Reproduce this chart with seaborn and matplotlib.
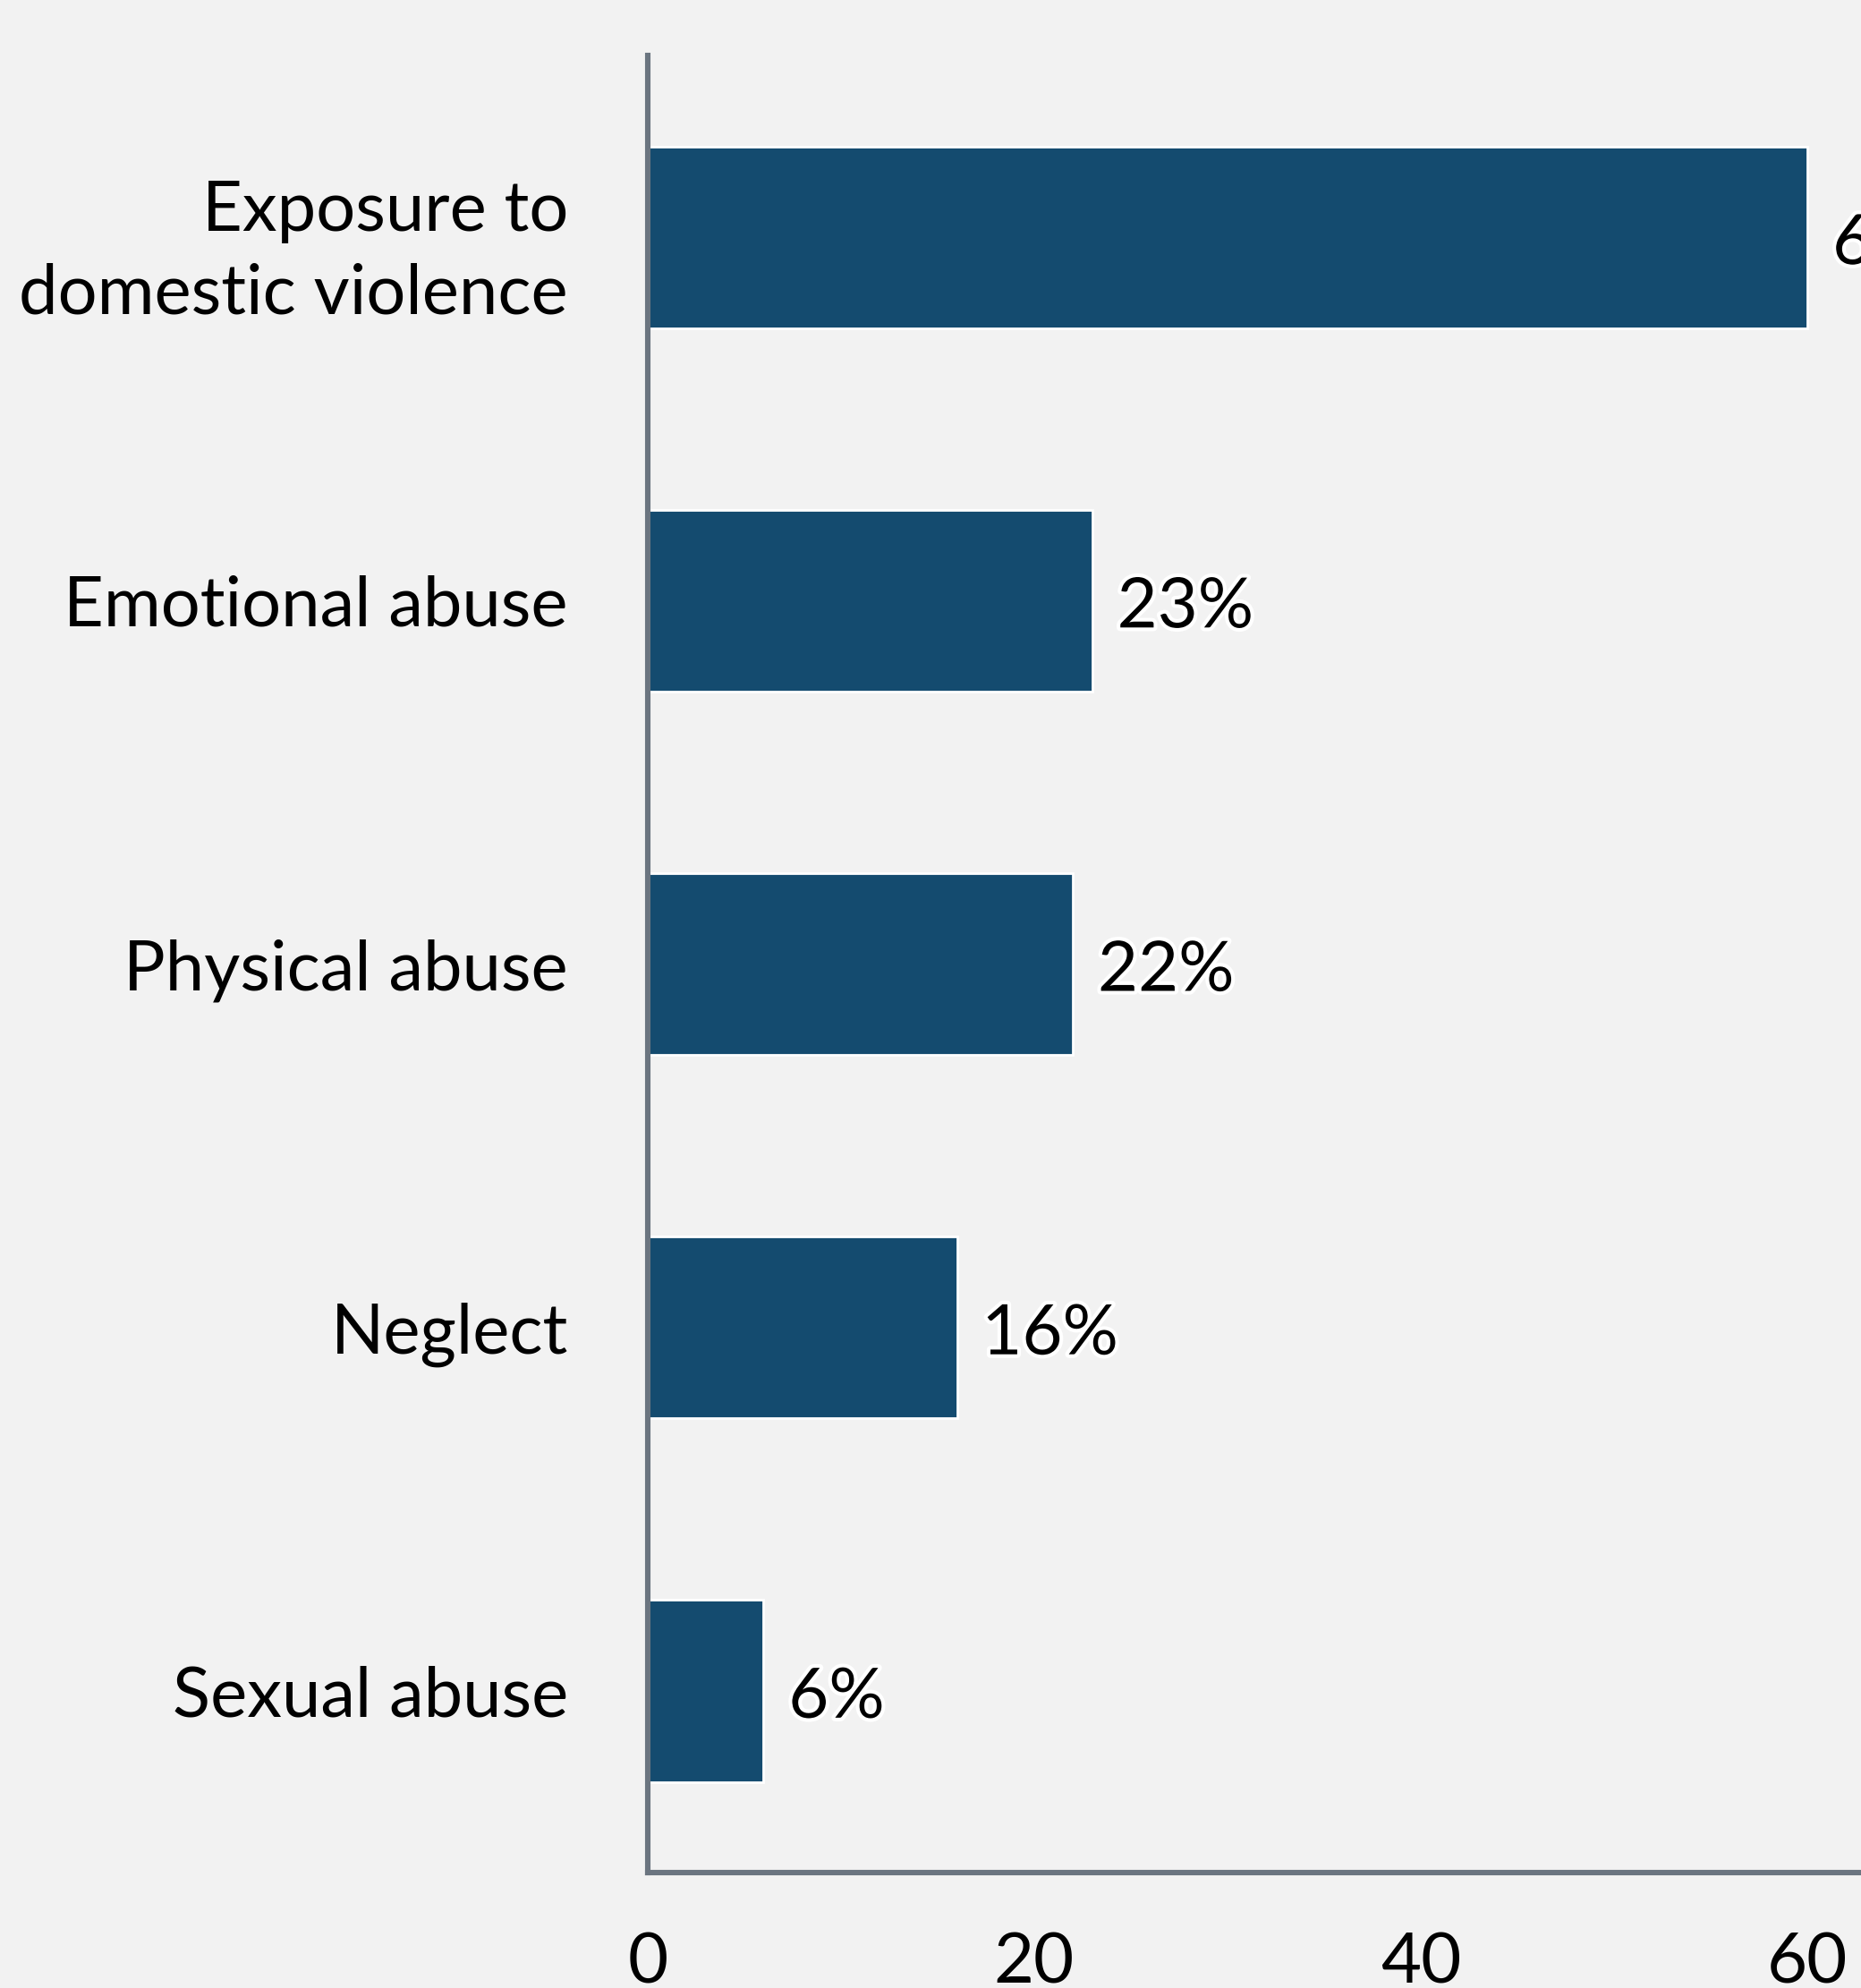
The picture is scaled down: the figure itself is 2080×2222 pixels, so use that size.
import matplotlib
matplotlib.use("Agg")
import matplotlib.pyplot as plt
import matplotlib.patheffects as pe
import seaborn as sns
import pandas as pd

# datos
categorias = ["Exposure to\ndomestic violence", "Emotional abuse", "Physical abuse", "Neglect", "Sexual abuse"]
valores = [60, 23, 22, 16, 6]
etiquetas = [f"{v}%" for v in valores]
ticks_x = [0, 20, 40, 60]

color_barra = "#144B6F"
fondo = "#F2F2F2"
gris = "#6B7580"

sns.set_style("white")
plt.rcParams['font.family'] = ['Lato', 'DejaVu Sans']

df = pd.DataFrame({"categoria": categorias, "valor": valores})

fig = plt.figure(figsize=(10.4, 11.11), dpi=200)
fig.patch.set_facecolor(fondo)
ax = fig.add_axes([0.348, 0.058, 0.831, 0.914])
ax.set_facecolor(fondo)

sns.barplot(data=df, x="valor", y="categoria", orient="h", color=color_barra,
            width=0.5, saturation=1, ax=ax)

ax.set_xlim(0, 80)
ax.set_xticks(ticks_x)
ax.set_xlabel("")
ax.set_ylabel("")

for s in ["top", "right"]:
    ax.spines[s].set_visible(False)
ax.spines["left"].set_color(gris)
ax.spines["bottom"].set_color(gris)
ax.spines["left"].set_linewidth(2.2)
ax.spines["bottom"].set_linewidth(2.2)

ax.tick_params(axis="y", length=0, pad=32, labelsize=28, colors="black")
ax.tick_params(axis="x", length=0, pad=24, labelsize=28, colors="black")
for t in ax.get_yticklabels():
    t.set_linespacing(1.38)

# etiquetas con borde blanco
for i, v in enumerate(valores):
    ax.annotate(etiquetas[i], xy=(v, i), xytext=(10, -3), textcoords="offset points",
                ha="left", va="center", fontsize=28, color="black",
                path_effects=[pe.withStroke(linewidth=3, foreground="white")])

fig.savefig("out.png", dpi=200, facecolor=fondo)
